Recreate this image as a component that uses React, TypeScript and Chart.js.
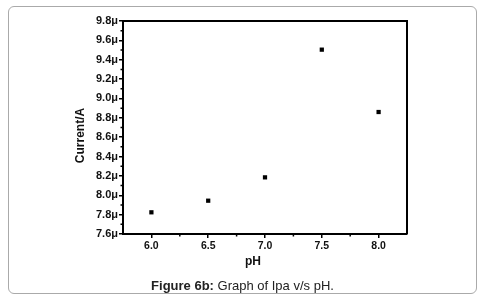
import React, { useEffect, useRef } from 'react';
import { Chart, registerables } from 'chart.js';

Chart.register(...registerables);

// Data (current in microamps)
const phValues = [6.0, 6.5, 7.0, 7.5, 8.0];
const currentValues = [7.824, 7.944, 8.185, 9.504, 8.86];

// Axis ticks
const xTickValues = [6.0, 6.5, 7.0, 7.5, 8.0];
const xMinorTicks = [6.25, 6.75, 7.25, 7.75];
const yTickValues = [7.6, 7.8, 8.0, 8.2, 8.4, 8.6, 8.8, 9.0, 9.2, 9.4, 9.6, 9.8];
const yMinorTicks = [7.7, 7.9, 8.1, 8.3, 8.5, 8.7, 8.9, 9.1, 9.3, 9.5, 9.7];

const xTitle = 'pH';
const yTitle = 'Current/A';
const FONT = "Arial, 'Liberation Sans', sans-serif";

const framePlugin = {
  id: 'frame',
  afterDraw(chart: any) {
    const { ctx, chartArea } = chart;
    const xs = chart.scales.x;
    const ys = chart.scales.y;
    ctx.save();
    ctx.strokeStyle = '#000';
    ctx.lineWidth = 2;
    ctx.beginPath();
    ctx.moveTo(chartArea.left, chartArea.top);
    ctx.lineTo(chartArea.right, chartArea.top);
    ctx.lineTo(chartArea.right, chartArea.bottom);
    ctx.stroke();
    // minor ticks
    ctx.lineWidth = 1.5;
    ctx.beginPath();
    xMinorTicks.forEach((v) => {
      const px = xs.getPixelForValue(v);
      ctx.moveTo(px, chartArea.bottom);
      ctx.lineTo(px, chartArea.bottom + 2.5);
    });
    yMinorTicks.forEach((v) => {
      const py = ys.getPixelForValue(v);
      ctx.moveTo(chartArea.left, py);
      ctx.lineTo(chartArea.left - 2.5, py);
    });
    ctx.stroke();
    // axis titles
    ctx.fillStyle = '#111';
    ctx.font = `bold 12px ${FONT}`;
    ctx.textAlign = 'center';
    ctx.textBaseline = 'middle';
    ctx.fillText(xTitle, 253, 262);
    ctx.translate(81, 135.5);
    ctx.rotate(-Math.PI / 2);
    ctx.fillText(yTitle, 0, 0);
    ctx.restore();
  },
};

export default function App() {
  const canvasRef = useRef<HTMLCanvasElement | null>(null);

  useEffect(() => {
    if (!canvasRef.current) return;
    const chart = new Chart(canvasRef.current, {
      type: 'scatter',
      data: {
        datasets: [
          {
            data: phValues.map((x, i) => ({ x, y: currentValues[i] })),
            pointStyle: 'rect',
            pointRadius: 3,
            pointBorderWidth: 0,
            backgroundColor: '#000',
            borderColor: '#000',
          },
        ],
      },
      options: {
        animation: false,
        responsive: false,
        maintainAspectRatio: false,
        layout: { padding: { left: 74, top: 21, right: 78, bottom: 34 } },
        plugins: { legend: { display: false }, tooltip: { enabled: false } },
        scales: {
          x: {
            type: 'linear',
            min: 5.75,
            max: 8.25,
            afterBuildTicks: (s: any) => {
              s.ticks = xTickValues.map((v) => ({ value: v }));
            },
            afterFit: (s: any) => {
              s.height = 35;
            },
            ticks: {
              padding: 2,
              color: '#111',
              font: { family: FONT, size: 10.5, weight: 'bold' },
              callback: (v: any) => Number(v).toFixed(1),
            },
            grid: { drawOnChartArea: false, drawTicks: true, tickLength: 4, color: '#000', lineWidth: 1.5 },
            border: { display: true, color: '#000', width: 2 },
          },
          y: {
            type: 'linear',
            min: 7.6,
            max: 9.8,
            afterBuildTicks: (s: any) => {
              s.ticks = yTickValues.map((v) => ({ value: v }));
            },
            afterFit: (s: any) => {
              s.width = 49;
            },
            ticks: {
              padding: 1,
              color: '#111',
              font: { family: FONT, size: 11, weight: 'bold' },
              callback: (v: any) => Number(v).toFixed(1) + 'μ',
            },
            grid: { drawOnChartArea: false, drawTicks: true, tickLength: 4, color: '#000', lineWidth: 1.5 },
            border: { display: true, color: '#000', width: 2 },
          },
        },
      },
      plugins: [framePlugin],
    });
    return () => chart.destroy();
  }, []);

  return (
    <div style={{ position: 'fixed', left: 0, top: 0, width: 485, height: 303, background: '#fff' }}>
      <div
        style={{
          position: 'absolute',
          left: 8,
          top: 6,
          width: 469,
          height: 288,
          boxSizing: 'border-box',
          border: '1.5px solid #aaa',
          borderRadius: 6,
        }}
      />
      <canvas ref={canvasRef} width={485} height={303} style={{ position: 'absolute', left: 0, top: 0 }} />
      <div
        style={{
          position: 'absolute',
          left: 0,
          top: 278,
          width: 485,
          textAlign: 'center',
          fontFamily: FONT,
          fontSize: 13,
          lineHeight: '16px',
          color: '#222',
        }}
      >
        <b>Figure 6b:</b> Graph of Ipa v/s pH.
      </div>
    </div>
  );
}
